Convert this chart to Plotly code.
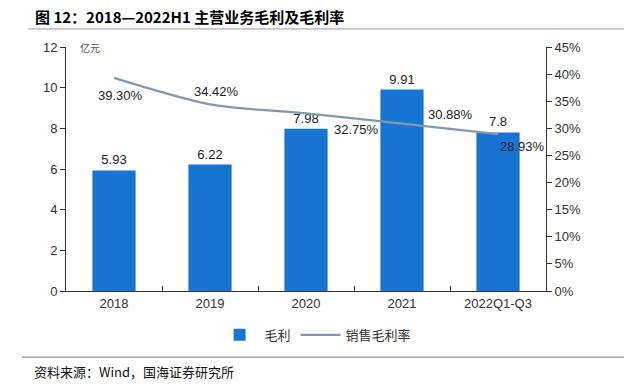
import plotly.graph_objects as go

categories = ["2018", "2019", "2020", "2021", "2022Q1-Q3"]
gross_profit = [5.93, 6.22, 7.98, 9.91, 7.8]
gross_margin = [0.3930, 0.3442, 0.3275, 0.3088, 0.2893]
profit_labels = ["5.93", "6.22", "7.98", "9.91", "7.8"]
margin_labels = ["39.30%", "34.42%", "32.75%", "30.88%", "28.93%"]
# label offsets (pixels) for margin labels
margin_xshift = [6, 6, 50, 48, 24]
margin_yshift = [-18, 13, -16, 9, -12]

BAR = "#1874D2"
LINE = "#8497B0"
FONT = "Liberation Sans, Arial, Noto Sans CJK SC, sans-serif"
CJK = "Noto Sans CJK SC, sans-serif"

fig = go.Figure()
fig.add_trace(go.Bar(
    x=categories, y=gross_profit, name="毛利",
    marker=dict(color=BAR, line=dict(width=0)),
    text=profit_labels, textposition="outside", cliponaxis=False,
    textfont=dict(size=13, color="#222", family=FONT),
    width=0.45,
))
fig.add_trace(go.Scatter(
    x=categories, y=gross_margin, name="销售毛利率", yaxis="y2",
    mode="lines", line=dict(color=LINE, width=2.2, shape="spline", smoothing=0.8),
))

for i, (v, t, dx, dy) in enumerate(zip(gross_margin, margin_labels, margin_xshift, margin_yshift)):
    fig.add_annotation(x=i, xref="x", y=v, yref="y2", text=t, showarrow=False,
                       xshift=dx, yshift=dy,
                       font=dict(size=13, color="#222", family=FONT))

fig.add_annotation(xref="paper", yref="paper", x=0.025, y=1.0, text="亿元",
                   showarrow=False, xanchor="left", yanchor="middle",
                   font=dict(size=10, color="#555", family=CJK))

fig.add_annotation(xref="paper", yref="paper", x=-0.069, y=1.127,
                   text="<b>图 12：2018—2022H1 主营业务毛利及毛利率</b>",
                   showarrow=False, xanchor="left", yanchor="middle",
                   font=dict(size=15, color="#000", family=CJK))
fig.add_annotation(xref="paper", yref="paper", x=-0.07, y=-0.33,
                   text="资料来源：Wind，国海证券研究所",
                   showarrow=False, xanchor="left", yanchor="middle",
                   font=dict(size=13, color="#111", family=CJK))

fig.add_shape(type="line", xref="paper", yref="paper", x0=-0.079, x1=1.2,
              y0=1.074, y1=1.074, line=dict(color="#999", width=1))
fig.add_shape(type="line", xref="paper", yref="paper", x0=-0.092, x1=1.2,
              y0=-0.271, y1=-0.271, line=dict(color="#777", width=1))

fig.update_layout(
    width=624, height=392,
    margin=dict(l=66, r=78, t=47, b=101),
    paper_bgcolor="white", plot_bgcolor="white",
    font=dict(family=FONT, size=13, color="#333"),
    showlegend=True,
    legend=dict(orientation="h", x=0.52, xanchor="center", y=-0.18, yanchor="middle",
                font=dict(size=13, family=CJK, color="#333"), itemwidth=40,
                traceorder="normal"),
    xaxis=dict(type="category", range=[-0.5, 4.5], showline=True, linecolor="#333", linewidth=1,
               ticks="inside", tickson="boundaries", ticklen=5, tickcolor="#333",
               showgrid=False, tickfont=dict(size=13, color="#333")),
    yaxis=dict(range=[0, 12], dtick=2, showline=True, linecolor="#333", linewidth=1,
               ticks="outside", ticklen=5, tickcolor="#333", showgrid=False,
               zeroline=False, tickfont=dict(size=13, color="#333")),
    yaxis2=dict(range=[0, 0.45], dtick=0.05, tickformat=".0%", overlaying="y",
                side="right", showline=True, linecolor="#333", linewidth=1,
                ticks="outside", ticklen=5, tickcolor="#333", showgrid=False,
                zeroline=False, tickfont=dict(size=13, color="#333")),
)

fig.write_html("out.html", config={"displayModeBar": False},
               post_script="document.body.style.margin='0';document.body.style.overflow='hidden';")
